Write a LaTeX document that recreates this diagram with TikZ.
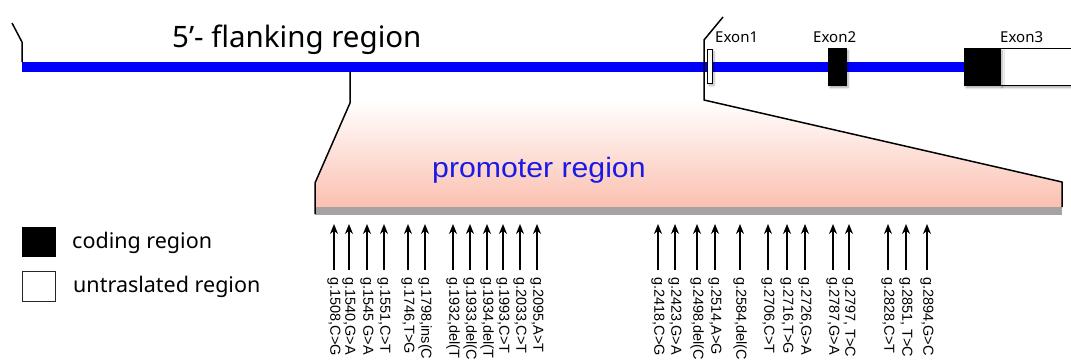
\documentclass[tikz,border=0pt]{standalone}
\usepackage{fontspec}
\setmainfont{Noto Sans}
\newfontfamily\arialf{Liberation Sans}
\usetikzlibrary{shadows.blur,arrows.meta}
\definecolor{dnablue}{RGB}{0,0,250}
\definecolor{promo}{RGB}{251,192,176}
\definecolor{barc}{RGB}{166,162,164}
\definecolor{promtext}{RGB}{26,26,230}
\begin{document}
\begin{tikzpicture}[x=1pt,y=-1pt,
  dna/.style={line width=10pt, draw=dnablue},
  bracket/.style={line width=1.5pt, line join=round, draw=black},
  coding/.style={draw=black, fill=black, inner sep=0pt, line width=0.6pt,
     blur shadow={shadow blur steps=6, shadow xshift=2pt, shadow yshift=-2.5pt, shadow opacity=35}},
  utr/.style={draw=black, fill=white, inner sep=0pt, line width=0.8pt},
  exlab/.style={font=\fontsize{15}{18}\selectfont, anchor=base west, inner sep=0pt},
  leglab/.style={font=\fontsize{21.5}{25}\selectfont, anchor=base west, inner sep=0pt},
  snp/.style={font=\arialf\fontsize{14.5}{16}\selectfont, rotate=-90, anchor=west, inner sep=0pt},
  snparrow/.style={line width=1.6pt, -{Stealth[length=10pt,width=8pt]}}]
\useasboundingbox (0,0) rectangle (1071,360);
\clip (0,0) rectangle (1071,360);

% promoter region
\path[top color=white, middle color=promo!45, bottom color=promo] (350,100) -- (704,100) -- (1062,182) -- (1062,207) -- (315,207) -- (315,183) -- cycle;
\fill[barc] (315,207) rectangle (1062,215);

% main line
\draw[dna] (22,67) -- (964,67);
\draw[bracket] (12,23) -- (22,42) -- (22,62);
\draw[bracket] (350,72) -- (350,103) -- (315,183) -- (315,214);
\draw[bracket] (723,17) -- (704,40) -- (704,100) -- (1062,182) -- (1062,207);

% exons
\node[utr, minimum width=5pt, minimum height=34pt,
  blur shadow={shadow blur steps=6, shadow xshift=2pt, shadow yshift=-2.5pt, shadow opacity=30}] (ex1) at (709.5,66) {};
\node[coding, minimum width=18pt, minimum height=37pt] (ex2) at (837,66.5) {};
\node[utr, minimum width=80pt, minimum height=37pt,
  blur shadow={shadow blur steps=6, shadow xshift=2pt, shadow yshift=-2.5pt, shadow opacity=35}] (ex3u) at (1040,66.5) {};
\node[coding, minimum width=36pt, minimum height=37pt] (ex3c) at (982,66.5) {};

\node[exlab] (e1) at (715,42) {Exon1};
\node[exlab] (e2) at (813,42) {Exon2};
\node[exlab] (e3) at (1000,42) {Exon3};

\node[font=\fontsize{29.5}{34}\selectfont, anchor=base west, inner sep=0pt] (flank) at (172,47) {5’- flanking region};
\node[font=\arialf\fontsize{28}{32}\selectfont, text=promtext, anchor=base west, inner sep=0pt, xscale=1.08] (prom) at (432,177) {promoter region};

% legend
\node[draw=black, fill=black, minimum width=33pt, minimum height=29pt, inner sep=0pt] (lc) at (38.5,241.5) {};
\node[draw=black!85, fill=white, line width=1pt, minimum width=33pt, minimum height=30pt, inner sep=0pt] (lu) at (38.5,286) {};
\node[leglab] (lct) at (72,248) {coding region};
\node[leglab] (lut) at (73,292) {untraslated region};

% SNPs
\foreach \x/\t [count=\i] in {
  334/{g.1508,C>G}, 349/{g.1540,G>A}, 367/{g.1545 G>A}, 384/{g.1551,C>T},
  408/{g.1746,T>G}, 425/{g.1798,ins(C}, 453/{g.1932,del(T}, 470/{g.1933,del(C},
  487/{g.1934,del(T}, 503/{g.1993,C>T}, 520/{g.2033,C>T}, 537/{g.2095,A>T},
  658/{g.2418,C>G}, 675/{g.2423,G>A}, 697/{g.2498,del(C}, 715/{g.2514,A>G},
  740/{g.2584,del(C}, 768/{g.2706,C>T}, 787/{g.2716,T>G}, 805/{g.2726,G>A},
  833/{g.2787,G>A}, 849/{g.2797, T>C}, 888/{g.2828,C>T}, 906/{g.2851, T>C},
  927/{g.2894,G>C}} {
  \node[snp] (L\i) at (\x,277) {\t};
  \coordinate (T\i) at (\x,224);
  \draw[snparrow] ([yshift=7pt]L\i.west) -- (T\i);
}
\end{tikzpicture}
\end{document}
